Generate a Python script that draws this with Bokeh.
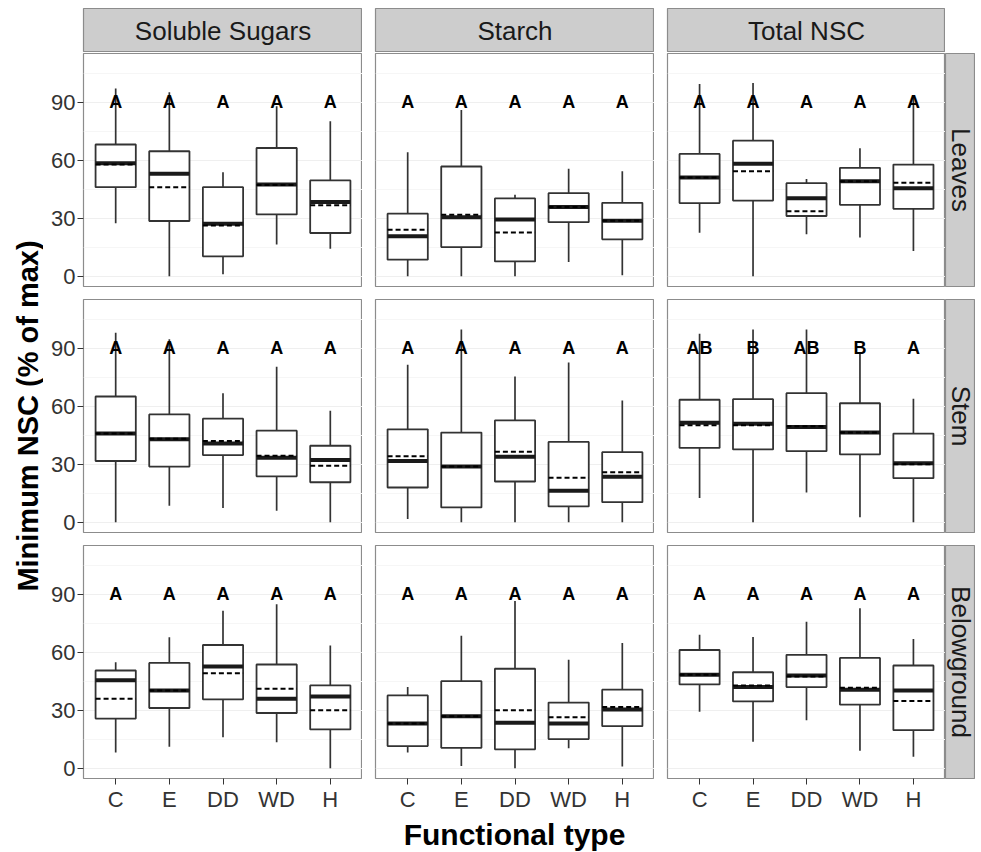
import math
from bokeh.plotting import figure
from bokeh.layouts import row, column
from bokeh.models import Range1d, FixedTicker
from bokeh.embed import file_html
from bokeh.resources import INLINE
from bokeh.core.properties import value

# ---------------- data ----------------
types = ["C", "E", "DD", "WD", "H"]
nsc_labels = ["Soluble Sugars", "Starch", "Total NSC"]
organ_labels = ["Leaves", "Stem", "Belowground"]
y_ticks = [0, 30, 60, 90]
y_minor = [15, 45, 75, 105]
letter_y = 90
x_title = "Functional type"
y_title = "Minimum NSC (% of max)"

sugar_leaves = dict(lo=[27.5, 0, 1, 16.4, 14.3], q1=[46.1, 28.6, 10.3, 32, 22.4],
                    med=[58.5, 53, 27.2, 47.5, 38.4], mean=[57.8, 46.1, 26.3, 47.3, 36.7],
                    q3=[68.2, 64.7, 46.1, 66.4, 49.6], hi=[97.2, 95.2, 53.9, 88, 80.2])
starch_leaves = dict(lo=[0, 0, 0, 7.4, 0.5], q1=[8.6, 15.1, 7.7, 28, 19.1],
                     med=[20.7, 30.6, 29.4, 35.8, 28.7], mean=[24.1, 31.8, 22.7, 35.8, 28.7],
                     q3=[32.4, 56.8, 40.3, 43, 38], hi=[64.2, 86, 42.2, 55.6, 54.4])
total_leaves = dict(lo=[22.5, 0, 21.7, 20, 13.1], q1=[37.9, 39.2, 31.2, 37, 34.9],
                    med=[51.1, 58.2, 40.4, 49.2, 45.6], mean=[51.1, 54.4, 33.7, 49.2, 48.4],
                    q3=[63.3, 70.2, 48.2, 56.1, 57.8], hi=[99.5, 100, 50.4, 66.3, 93.5])

sugar_stem = dict(lo=[0, 8.6, 7.4, 6, 0], q1=[31.7, 28.8, 34.8, 23.8, 20.7],
                  med=[45.9, 43, 40.8, 33.4, 32.2], mean=[45.9, 43.2, 42, 34.4, 29.3],
                  q3=[65.1, 55.8, 53.6, 47.4, 39.6], hi=[98.1, 94.7, 66.8, 80.5, 57.7])
starch_stem = dict(lo=[1.7, 0, 0, 0, 0], q1=[18, 7.7, 21.1, 8.2, 10.4],
                   med=[31.7, 28.9, 33.9, 16.3, 23.6], mean=[34.2, 28.9, 36.5, 23.1, 25.9],
                   q3=[48.1, 46.4, 52.7, 41.6, 36.3], hi=[81.5, 99.8, 75.5, 82.7, 63])
total_stem = dict(lo=[12.5, 0, 15.4, 2.6, 0], q1=[38.5, 37.7, 36.8, 35.1, 22.8],
                  med=[51.5, 51, 49.3, 46.4, 30.5], mean=[50.2, 50.2, 49.7, 46.4, 30],
                  q3=[63.4, 63.7, 66.8, 61.6, 45.9], hi=[97.6, 99.8, 99.8, 87.8, 63.9])

sugar_below = dict(lo=[8.1, 11.1, 16, 13.4, 0], q1=[25.7, 31.2, 35.7, 28.6, 20.1],
                   med=[45.5, 40.3, 52.7, 36, 37.2], mean=[36, 40.3, 49.2, 41.2, 30],
                   q3=[50.6, 54.5, 63.8, 53.7, 42.9], hi=[54.9, 67.8, 81.5, 84.9, 63.5])
starch_below = dict(lo=[8.1, 1.2, 0, 10.3, 0.9], q1=[11.5, 10.6, 9.8, 15.1, 21.8],
                    med=[23.2, 26.9, 23.5, 23.2, 30.4], mean=[23.2, 26.9, 30, 26.4, 31.7],
                    q3=[37.7, 45.1, 51.5, 34, 40.7], hi=[42, 68.6, 86.6, 56.1, 64.8])
total_below = dict(lo=[29.2, 13.7, 24.9, 9.1, 6], q1=[43.4, 34.6, 42, 32.9, 19.7],
                   med=[48.4, 42, 48, 40.7, 40.3], mean=[48.4, 42.9, 47.5, 41.7, 34.8],
                   q3=[61.2, 49.7, 58.7, 57.1, 53.2], hi=[69.1, 68, 75.8, 82.8, 66.9])

letters_default = ["A", "A", "A", "A", "A"]
letters_total_stem = ["AB", "B", "AB", "B", "A"]

grid_stats = [[sugar_leaves, starch_leaves, total_leaves],
              [sugar_stem, starch_stem, total_stem],
              [sugar_below, starch_below, total_below]]
grid_letters = [[letters_default, letters_default, letters_default],
                [letters_default, letters_default, letters_total_stem],
                [letters_default, letters_default, letters_default]]

# ---------------- style ----------------
FONT = "Liberation Sans"
BOX_COL = "#333333"
BORDER_COL = "#8c8c8c"
STRIP_FILL = "#cdcdcd"
TXT_COL = "#1a1a1a"
FRAME_H = 233
COL_FRAME_W = [279, 279, 278]
COL_LEFT = [40, 13, 13]
ROW_TOP = [1, 7, 7]
ROW_BOT = [6, 6, 38]
STRIP_W = 30
STRIP_H = 44
TOP_PAD = 8
YLAB_W = 43
XLAB_H = 36
BOX_W = 0.75


def base_fig(**kw):
    p = figure(output_backend="svg", toolbar_location=None, **kw)
    p.border_fill_color = "white"
    p.background_fill_color = "white"
    return p


def blank(p):
    p.xaxis.visible = False
    p.yaxis.visible = False
    p.xgrid.visible = False
    p.ygrid.visible = False


def style_axis(ax):
    ax.axis_line_color = None
    ax.axis_label_standoff = 0
    ax.major_tick_line_color = BOX_COL
    ax.major_tick_out = 6
    ax.major_tick_in = 0
    ax.minor_tick_line_color = None
    ax.major_label_standoff = 2
    ax.major_label_text_font = FONT
    ax.major_label_text_font_size = "22px"
    ax.major_label_text_color = "#333333"


def panel(stats, letters, ri, ci):
    ml = COL_LEFT[ci]
    mt = ROW_TOP[ri]
    mb = ROW_BOT[ri]
    fw = COL_FRAME_W[ci]
    p = base_fig(width=ml + fw, height=mt + FRAME_H + mb,
                 x_range=Range1d(0.4, 5.6), y_range=Range1d(-5.3, 115.3),
                 min_border_left=ml, min_border_right=0,
                 min_border_top=mt, min_border_bottom=mb)
    p.outline_line_color = BORDER_COL
    p.outline_line_width = 1.2
    xs = [i + 1 for i in range(len(types))]
    x0 = [x - BOX_W / 2 for x in xs]
    x1 = [x + BOX_W / 2 for x in xs]

    p.segment(x0=xs, y0=stats["q3"], x1=xs, y1=stats["hi"], line_color=BOX_COL, line_width=1.7)
    p.segment(x0=xs, y0=stats["lo"], x1=xs, y1=stats["q1"], line_color=BOX_COL, line_width=1.7)
    p.vbar(x=xs, width=BOX_W, bottom=stats["q1"], top=stats["q3"],
           fill_color="white", line_color=BOX_COL, line_width=1.8)
    p.segment(x0=x0, y0=stats["med"], x1=x1, y1=stats["med"], line_color=TXT_COL, line_width=4)
    p.segment(x0=x0, y0=stats["mean"], x1=x1, y1=stats["mean"], line_color="black",
              line_width=2, line_dash="5 3")
    p.text(x=xs, y=[letter_y] * len(xs), text=letters, text_align="center",
           text_baseline="middle", text_font=value(FONT), text_font_style="bold",
           text_font_size=value("18px"), text_color="black")

    # grid
    p.xgrid.visible = False
    p.ygrid.ticker = FixedTicker(ticks=y_ticks, minor_ticks=y_minor)
    p.ygrid.grid_line_color = "#efefef"
    p.ygrid.minor_grid_line_color = "#f6f6f6"

    # y axis
    p.yaxis.ticker = FixedTicker(ticks=y_ticks, minor_ticks=[])
    if ci == 0:
        style_axis(p.yaxis[0])
    else:
        p.yaxis.visible = False

    # x axis
    if ri == 2:
        p.xaxis.ticker = FixedTicker(ticks=xs, minor_ticks=[])
        p.xaxis.major_label_overrides = {x: t for x, t in zip(xs, types)}
        style_axis(p.xaxis[0])
    else:
        p.xaxis.visible = False
    return p


def top_strip(label, ci):
    ml = COL_LEFT[ci]
    p = base_fig(width=ml + COL_FRAME_W[ci], height=TOP_PAD + STRIP_H,
                 x_range=Range1d(0, 1), y_range=Range1d(0, 1),
                 min_border_left=ml, min_border_right=0, min_border_top=TOP_PAD,
                 min_border_bottom=0)
    blank(p)
    p.background_fill_color = STRIP_FILL
    p.outline_line_color = BORDER_COL
    p.outline_line_width = 1.2
    p.text(x=[0.5], y=[0.5], text=[label], text_align="center", text_baseline="middle",
           text_font=value(FONT), text_font_size=value("26px"), text_color=TXT_COL)
    return p


def right_strip(label, ri):
    mt = ROW_TOP[ri]
    mb = ROW_BOT[ri]
    p = base_fig(width=STRIP_W, height=mt + FRAME_H + mb,
                 x_range=Range1d(0, 1), y_range=Range1d(0, 1),
                 min_border_left=0, min_border_right=0, min_border_top=mt, min_border_bottom=mb)
    blank(p)
    p.background_fill_color = STRIP_FILL
    p.outline_line_color = BORDER_COL
    p.outline_line_width = 1.2
    p.text(x=[0.5], y=[0.5], text=[label], text_align="center", text_baseline="middle",
           angle=-math.pi / 2,
           text_font=value(FONT), text_font_size=value("26px"), text_color=TXT_COL)
    return p


strips = row([top_strip(lab, ci) for ci, lab in enumerate(nsc_labels)], spacing=0)
rows = []
for ri in range(3):
    figs = [panel(grid_stats[ri][ci], grid_letters[ri][ci], ri, ci) for ci in range(3)]
    figs.append(right_strip(organ_labels[ri], ri))
    rows.append(row(figs, spacing=0))

panels_w = sum(COL_LEFT) + sum(COL_FRAME_W)
xlab = base_fig(width=panels_w, height=XLAB_H, x_range=Range1d(0, 1), y_range=Range1d(0, 1),
                min_border_left=COL_LEFT[0], min_border_right=0, min_border_top=0,
                min_border_bottom=0)
blank(xlab)
xlab.outline_line_color = None
xlab.text(x=[0.5], y=[0.5], text=[x_title], text_align="center", text_baseline="middle",
          text_font=value(FONT), text_font_style="bold", text_font_size=value("30px"),
          text_color="black")

grid_h = TOP_PAD + STRIP_H + sum(ROW_TOP) + 3 * FRAME_H + sum(ROW_BOT) + XLAB_H
ylab = base_fig(width=YLAB_W, height=grid_h, x_range=Range1d(0, 1), y_range=Range1d(0, 1),
                min_border_left=0, min_border_right=0,
                min_border_top=TOP_PAD + STRIP_H + ROW_TOP[0],
                min_border_bottom=ROW_BOT[2] + XLAB_H)
blank(ylab)
ylab.outline_line_color = None
ylab.text(x=[0.63], y=[0.5], text=[y_title], text_align="center", text_baseline="middle",
          angle=math.pi / 2, text_font=value(FONT), text_font_style="bold",
          text_font_size=value("29px"), text_color="black")

main = column([strips] + rows + [xlab], spacing=0)
layout = row([ylab, main], spacing=0)

open("out.html", "w").write(file_html(layout, INLINE))
